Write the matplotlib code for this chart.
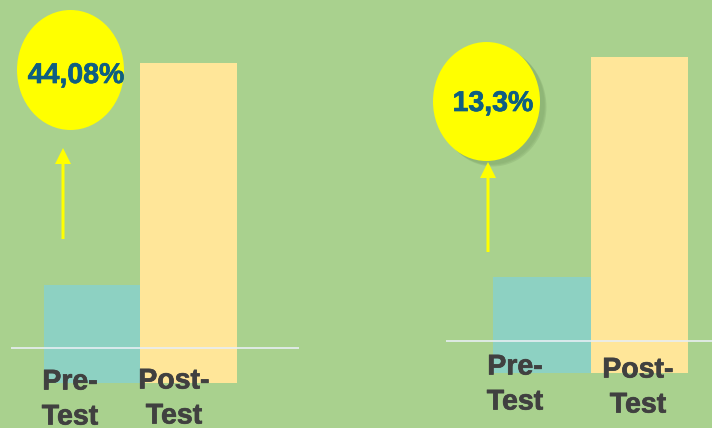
import matplotlib
matplotlib.use("Agg")
import matplotlib.pyplot as plt
from matplotlib.patches import Ellipse, FancyArrow
import matplotlib.patheffects as pe

categories = ["Pre-\nTest", "Post-\nTest"]
left_values = [30.6, 100.0]
right_values = [30.4, 100.0]
left_gain = "44,08%"
right_gain = "13,3%"

BG = "#A9D18E"
PRE = "#8DD1C2"
POST = "#FFE699"
TXT = "#404040"
PCT = "#0E5E82"

W, H = 712, 428
fig = plt.figure(figsize=(W / 100, H / 100), dpi=100, facecolor=BG)


def fx(px):
    return px / W


def fy(py):
    return 1 - py / H


def panel(x0, x1, ybot, ytop, pre_c, post_c, values, line_px):
    ax = fig.add_axes([fx(x0), fy(ybot), fx(x1) - fx(x0), (ybot - ytop) / H])
    ax.set_facecolor("none")
    xs = [0, 1]
    ax.bar(xs, values, width=1.0, color=[PRE, POST], clip_on=False)
    scale = post_c - pre_c
    ax.set_xlim(-(pre_c - x0) / scale, 1 + (x1 - post_c) / scale)
    ax.set_ylim(0, values[1])
    yline = (ybot - line_px) / (ybot - ytop) * values[1]
    ax.axhline(yline, color="#E8EEF4", lw=1.2)
    ax.axis("off")
    return ax


panel(11, 299, 383, 63, 92, 188.5, left_values, 348)
panel(446, 712, 373, 57, 542, 639.5, right_values, 341)

ov = fig.add_axes([0, 0, 1, 1])
ov.set_xlim(0, W)
ov.set_ylim(H, 0)
ov.axis("off")
ov.set_facecolor("none")

# shadow for right ellipse
for i, a in enumerate([0.06, 0.08, 0.1]):
    ov.add_patch(Ellipse((490 + 1 + i, 104 + 1 + i), 107, 119, color="#3a5a2a", alpha=a, lw=0))

ov.add_patch(Ellipse((70.5, 70), 107, 120, color="#FFFF00", lw=0))
ov.add_patch(Ellipse((486.5, 101.5), 107, 119, color="#FFFF00", lw=0))

thick_pct = [pe.withStroke(linewidth=0.5, foreground=PCT)]
thick_txt = [pe.withStroke(linewidth=0.5, foreground=TXT)]

ov.text(76, 76, left_gain, color=PCT, fontsize=20.5, fontweight="bold",
        family="Liberation Sans", ha="center", va="center", path_effects=thick_pct)
ov.text(493, 104, right_gain, color=PCT, fontsize=20.5, fontweight="bold",
        family="Liberation Sans", ha="center", va="center", path_effects=thick_pct)

for xa, yb, yt in [(63, 239, 148), (488, 252, 162)]:
    ov.add_patch(FancyArrow(xa, yb, 0, yt - yb, width=3, head_width=16,
                            head_length=16, length_includes_head=True,
                            color="#FFFF00", lw=0))

labels = [
    (70, 400, categories[0]), (174, 399, categories[1]),
    (515, 385, categories[0]), (638, 388, categories[1]),
]
for x, y, s in labels:
    ov.text(x, y, s, color=TXT, fontsize=20.5, fontweight="bold",
            family="Liberation Sans", ha="center", va="center", linespacing=1.45,
            path_effects=thick_txt)

fig.savefig("out.png", dpi=100, facecolor=BG)
